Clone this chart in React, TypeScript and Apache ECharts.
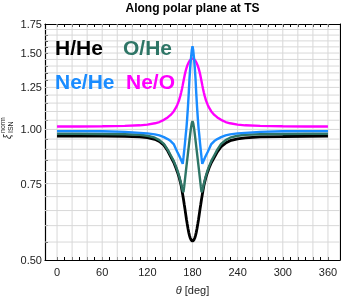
import React, { useEffect, useRef } from "react";
import * as echarts from "echarts";

const theta = [0,30,60,90,110,120,130,136,142,147,151,155,158,160,162,164,165,166,167,168,169,170,171,172,173,174,175,176,177,178,179,180,181,182,183,184,185,186,187,188,189,190,191,192,193,194,195,196,198,200,202,205,209,213,218,224,230,240,250,270,300,330,360];

const hHe = [0.965,0.965,0.965,0.964,0.961,0.957,0.949,0.938,0.920,0.893,0.866,0.840,0.815,0.797,0.777,0.754,0.741,0.724,0.707,0.690,0.672,0.655,0.637,0.620,0.605,0.591,0.579,0.569,0.562,0.557,0.554,0.553,0.554,0.557,0.562,0.569,0.579,0.591,0.605,0.620,0.637,0.655,0.672,0.690,0.707,0.724,0.741,0.754,0.777,0.797,0.815,0.838,0.862,0.888,0.912,0.930,0.942,0.951,0.956,0.961,0.963,0.964,0.965];

const oHe = [0.977,0.977,0.976,0.975,0.972,0.967,0.957,0.945,0.926,0.898,0.872,0.846,0.822,0.804,0.784,0.760,0.747,0.733,0.722,0.717,0.740,0.767,0.795,0.823,0.852,0.882,0.913,0.945,0.977,1.008,1.032,1.045,1.032,1.008,0.977,0.945,0.913,0.882,0.852,0.823,0.795,0.767,0.740,0.717,0.722,0.733,0.747,0.760,0.784,0.804,0.822,0.846,0.872,0.898,0.926,0.945,0.957,0.967,0.972,0.975,0.976,0.977,0.977];

const neHe = [0.991,0.991,0.990,0.987,0.982,0.979,0.974,0.969,0.960,0.950,0.940,0.925,0.901,0.886,0.872,0.857,0.849,0.841,0.833,0.862,0.895,0.930,0.972,1.010,1.065,1.130,1.210,1.310,1.390,1.460,1.520,1.555,1.520,1.460,1.390,1.310,1.210,1.130,1.065,1.010,0.972,0.930,0.895,0.862,0.833,0.841,0.849,0.857,0.872,0.886,0.901,0.925,0.940,0.950,0.960,0.969,0.974,0.979,0.982,0.987,0.990,0.991,0.991];

const neO = [1.016,1.016,1.017,1.019,1.022,1.026,1.033,1.040,1.052,1.066,1.080,1.100,1.122,1.142,1.165,1.198,1.218,1.240,1.265,1.292,1.318,1.343,1.365,1.385,1.402,1.416,1.428,1.438,1.446,1.451,1.454,1.455,1.454,1.451,1.446,1.438,1.428,1.416,1.402,1.385,1.365,1.343,1.318,1.292,1.265,1.240,1.218,1.198,1.165,1.142,1.122,1.100,1.080,1.066,1.052,1.040,1.033,1.026,1.022,1.019,1.017,1.016,1.016];

const xLabelTicks = [0, 60, 120, 180, 240, 300, 360];
const xMinorTicks = [0,10,20,30,40,50,60,70,80,90,100,110,120,130,140,150,160,170,180,190,200,210,220,230,240,250,260,270,280,290,300,310,320,330,340,350,360];
const xGrid = [0,20,40,60,80,100,120,140,160,180,200,220,240,260,280,300,320,340,360];
const yLabelTicks = [0.5, 0.75, 1.0, 1.25, 1.5, 1.75];
const yMinorTicks = [0.5,0.55,0.6,0.65,0.7,0.75,0.8,0.85,0.9,0.95,1.0,1.05,1.1,1.15,1.2,1.25,1.3,1.35,1.4,1.45,1.5,1.55,1.6,1.65,1.7,1.75];
const yGrid = [0.55,0.6,0.65,0.7,0.75,0.8,0.85,0.9,0.95,1.0,1.05,1.1,1.15,1.2,1.25,1.3,1.35,1.4,1.45,1.5,1.55,1.6,1.65,1.7];

const FONT = "Liberation Sans, Arial, sans-serif";
const X_MIN = -16;
const X_MAX = 376;

export default function App() {
  const ref = useRef<HTMLDivElement>(null);
  useEffect(() => {
    if (!ref.current) return;
    const chart = echarts.init(ref.current, undefined, { renderer: "svg" });
    const L = Math.log;
    const Y_MIN = L(0.5);
    const Y_MAX = L(1.75);
    const mk = (vals: number[]) => theta.map((t, i) => [t, L(vals[i])]);
    const lineSeries = (name: string, vals: number[], color: string, width: number, z: number) => ({
      name,
      type: "line",
      data: mk(vals),
      showSymbol: false,
      symbol: "none",
      smooth: false,
      z,
      silent: true,
      lineStyle: { color, width, type: "solid" },
    });
    const gridData: any[] = [];
    xGrid.forEach((x) => {
      gridData.push([x, Y_MIN], [x, Y_MAX], [x, "-"]);
    });
    yGrid.forEach((y) => {
      gridData.push([X_MIN, L(y)], [X_MAX, L(y)], [X_MAX, "-"]);
    });
    const axisCommon = {
      axisLine: { show: true, onZero: false, lineStyle: { color: "#000", width: 1.2 } },
      splitLine: { show: false },
    };
    chart.setOption({
      animation: false,
      grid: { left: 45, right: 1, top: 24, bottom: 37, containLabel: false, outerBoundsMode: "none" },
      xAxis: [
        {
          type: "value",
          min: X_MIN,
          max: X_MAX,
          position: "bottom",
          ...axisCommon,
          axisTick: { show: true, inside: true, length: 3, customValues: xMinorTicks, lineStyle: { color: "#000" } },
          axisLabel: { customValues: xLabelTicks, fontFamily: FONT, fontSize: 11, color: "#222", margin: 6 },
          name: "{i|θ} [deg]",
          nameLocation: "middle",
          nameGap: 24,
          nameTextStyle: {
            fontFamily: FONT,
            fontSize: 11,
            color: "#222",
            rich: { i: { fontFamily: FONT, fontSize: 11, fontStyle: "italic", color: "#222" } },
          },
        },
        {
          type: "value",
          min: X_MIN,
          max: X_MAX,
          position: "top",
          ...axisCommon,
          axisTick: { show: true, inside: true, length: 3, customValues: xMinorTicks, lineStyle: { color: "#000" } },
          axisLabel: { show: false },
        },
      ],
      yAxis: [
        {
          type: "value",
          min: Y_MIN,
          max: Y_MAX,
          position: "left",
          ...axisCommon,
          axisTick: { show: true, inside: true, length: 3, customValues: yMinorTicks.map(L), lineStyle: { color: "#000" } },
          axisLabel: {
            customValues: yLabelTicks.map(L),
            formatter: (v: number) => Math.exp(v).toFixed(2),
            fontFamily: FONT,
            fontSize: 11,
            color: "#222",
            margin: 3,
          },
        },
        {
          type: "value",
          min: Y_MIN,
          max: Y_MAX,
          position: "right",
          ...axisCommon,
          axisTick: { show: false },
          axisLabel: { show: false },
        },
      ],
      series: [
        {
          name: "grid",
          type: "line",
          data: gridData,
          showSymbol: false,
          symbol: "none",
          connectNulls: false,
          silent: true,
          z: 1,
          lineStyle: { color: "#d8d8d8", width: 1, type: "solid" },
        },
        lineSeries("Ne/O", neO, "#ff00ff", 2.4, 3),
        lineSeries("H/He", hHe, "#000000", 2.8, 4),
        lineSeries("O/He", oHe, "#2e7566", 2.4, 5),
        lineSeries("Ne/He", neHe, "#1a8cff", 2.4, 6),
      ],
      graphic: [
        {
          type: "text",
          x: 192.5,
          y: 8,
          style: { text: "Along polar plane at TS", font: `bold 12px ${FONT}`, fill: "#000", align: "center", verticalAlign: "middle" },
        },
        { type: "text", x: 55, y: 47, z: 10, style: { text: "H/He", font: `bold 21px ${FONT}`, fill: "#000", verticalAlign: "middle" } },
        { type: "text", x: 123, y: 47, z: 10, style: { text: "O/He", font: `bold 21px ${FONT}`, fill: "#2e7566", verticalAlign: "middle" } },
        { type: "text", x: 55, y: 81.5, z: 10, style: { text: "Ne/He", font: `bold 21px ${FONT}`, fill: "#1a8cff", verticalAlign: "middle" } },
        { type: "text", x: 126, y: 81.5, z: 10, style: { text: "Ne/O", font: `bold 21px ${FONT}`, fill: "#ff00ff", verticalAlign: "middle" } },
        {
          type: "group",
          x: 7.5,
          y: 139,
          rotation: Math.PI / 2,
          children: [
            { type: "text", x: 0, y: 0, style: { text: "ξ", font: `italic 10px ${FONT}`, fill: "#222", align: "left", verticalAlign: "middle" } },
            { type: "text", x: 6, y: -1.5, style: { text: "norm", font: `7px ${FONT}`, fill: "#222", align: "left", verticalAlign: "bottom" } },
            { type: "text", x: 6, y: -0.5, style: { text: "ISN", font: `7px ${FONT}`, fill: "#222", align: "left", verticalAlign: "top" } },
          ],
        },
      ],
    });
    return () => chart.dispose();
  }, []);
  return <div ref={ref} style={{ position: "fixed", left: 0, top: 0, width: 341, height: 297 }} />;
}
